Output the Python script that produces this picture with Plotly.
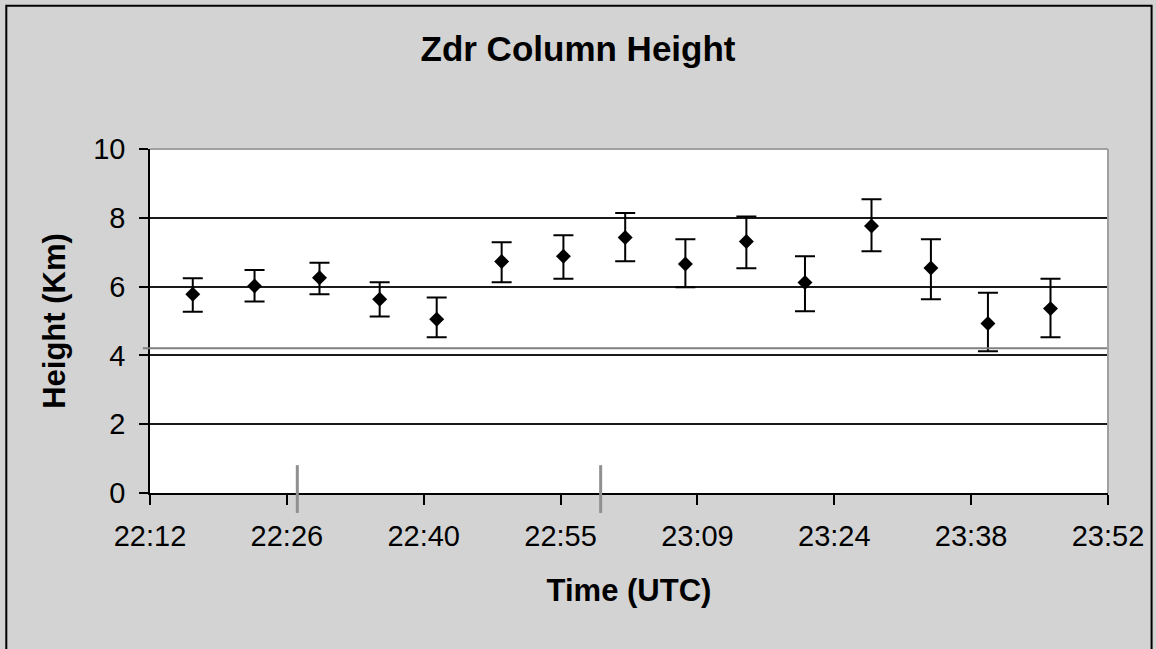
import plotly.graph_objects as go

# ---- data ----
day = "2000-01-01 "
scan_times = ["22:16:30", "22:23:00", "22:29:50", "22:36:10", "22:42:10",
              "22:49:00", "22:55:30", "23:02:00", "23:08:20", "23:14:45",
              "23:20:55", "23:27:55", "23:34:10", "23:40:10", "23:46:45"]
zdr_height = [5.78, 6.02, 6.26, 5.63, 5.05, 6.73, 6.88, 7.43, 6.66, 7.31,
              6.12, 7.76, 6.54, 4.93, 5.36]
err_plus = [0.46, 0.46, 0.43, 0.50, 0.63, 0.56, 0.61, 0.71, 0.72, 0.73,
            0.76, 0.78, 0.84, 0.89, 0.87]
err_minus = [0.51, 0.45, 0.48, 0.50, 0.52, 0.60, 0.65, 0.69, 0.68, 0.78,
             0.84, 0.73, 0.91, 0.81, 0.83]
ref_level = 4.21                       # grey horizontal reference line (km)
event_times = ["22:27:30", "22:59:25"]  # grey marks on the time axis
x_start, x_end = "22:12:00", "23:52:48"
tick_step_ms = 14.4 * 60 * 1000         # Excel major unit 0.01 day

FONT = "Arial, Liberation Sans, sans-serif"

fig = go.Figure()
fig.add_trace(go.Scatter(
    x=[day + t for t in scan_times], y=zdr_height,
    mode="markers",
    marker=dict(symbol="diamond", size=11.5, color="black"),
    error_y=dict(type="data", array=err_plus, arrayminus=err_minus,
                 color="black", thickness=2, width=10),
    showlegend=False, cliponaxis=False,
))

shapes = []
# grey reference line (extends left like a tick)
shapes.append(dict(type="line", xref="paper", yref="y", x0=-0.0075, x1=1,
                   y0=ref_level, y1=ref_level,
                   line=dict(color="#808080", width=2)))
# grey event marks across the time axis
for t in event_times:
    shapes.append(dict(type="line", xref="x", yref="paper",
                       x0=day + t, x1=day + t, y0=-0.058, y1=0.081,
                       line=dict(color="#909090", width=3)))
# plot-area top and right border (grey)
shapes.append(dict(type="line", xref="paper", yref="paper", x0=0, x1=1, y0=1, y1=1,
                   line=dict(color="#a0a0a0", width=2)))
shapes.append(dict(type="line", xref="paper", yref="paper", x0=1, x1=1, y0=0, y1=1,
                   line=dict(color="#a0a0a0", width=2)))
# outer chart border
shapes.append(dict(type="rect", xref="paper", yref="paper",
                   x0=-0.15, x1=1.0455, y0=-0.47, y1=1.4165,
                   line=dict(color="black", width=2), fillcolor="rgba(0,0,0,0)"))

fig.update_layout(
    width=1156, height=649,
    margin=dict(l=150, r=46, t=149, b=156),
    paper_bgcolor="#d3d3d3", plot_bgcolor="white",
    font=dict(family=FONT, color="black", size=29),
    title=dict(text="Zdr Column Height", x=0.5, xanchor="center",
               y=1 - 49 / 649, yanchor="middle",
               font=dict(family=FONT, size=35, weight="bold", color="black")),
    shapes=shapes,
    xaxis=dict(
        type="date", range=[day + x_start, day + x_end],
        tick0=day + x_start, dtick=tick_step_ms, tickformat="%H:%M",
        showgrid=False, showline=True, linecolor="black", linewidth=1.5,
        ticks="outside", ticklen=10, tickwidth=1.5, tickcolor="black",
        tickfont=dict(size=29), ticklabelstandoff=6,
        title=dict(text="Time (UTC)", standoff=29,
                   font=dict(family=FONT, size=31, weight="bold")),
    ),
    yaxis=dict(
        range=[0, 10], dtick=2, tick0=0,
        showgrid=True, gridcolor="#1a1a1a", gridwidth=1.5,
        zeroline=False,
        showline=True, linecolor="black", linewidth=1.5,
        ticks="outside", ticklen=9, tickwidth=1.5, tickcolor="black",
        tickfont=dict(size=29), ticklabelstandoff=8,
        title=dict(text="Height (Km)", standoff=18,
                   font=dict(family=FONT, size=31, weight="bold")),
    ),
)

fig.write_html("out.html",
               config={"displayModeBar": False},
               post_script="document.body.style.margin='0';document.body.style.overflow='hidden';")
